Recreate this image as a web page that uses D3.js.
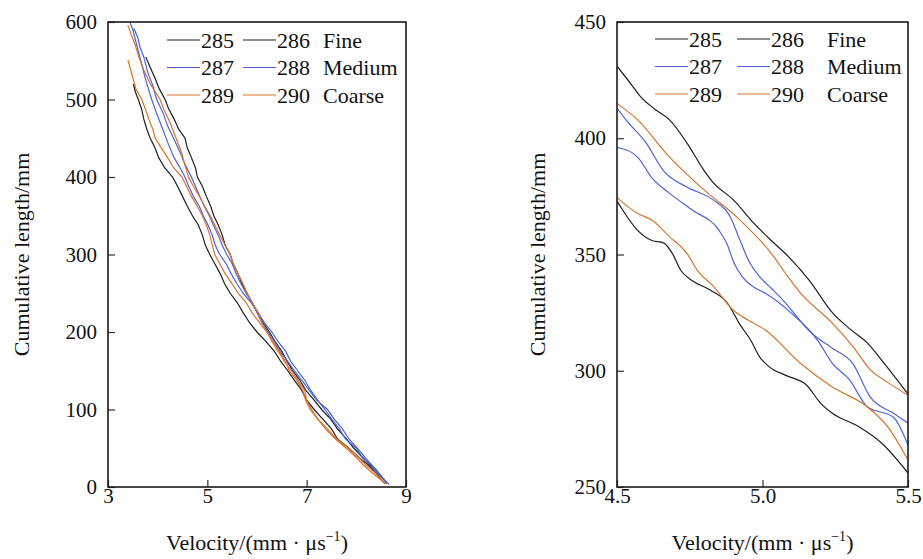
<!DOCTYPE html>
<html>
<head>
<meta charset="utf-8">
<script src="https://cdn.jsdelivr.net/npm/d3@7"></script>
<style>
  html,body{margin:0;padding:0;background:#fff;}
  svg{display:block;}
</style>
</head>
<body>
<svg id="chart" width="923" height="559"></svg>
<script>
const FONT="Liberation Serif";

/* series names + colours */
const seriesNames=["285","286","287","288","289","290"];
const seriesColors=["#1e1e1e","#1e1e1e","#4d63d6","#4d63d6","#d8732c","#d8732c"];
const groupNames=["Fine","Medium","Coarse"];

/* left panel: [velocity, cumulative length] */
const left285=[[3.76,555],[3.86,540],[3.95,527],[4.03,514],[4.15,500],[4.22,488],[4.33,475],[4.42,462],[4.55,450],[4.6,437],[4.68,425],[4.76,412],[4.8,400],[4.9,388],[4.98,375],[5.07,362],[5.13,350],[5.22,338],[5.3,325],[5.36,312],[5.46,300],[5.52,288],[5.62,275],[5.7,262],[5.8,250],[5.9,238],[6.02,225],[6.12,212],[6.25,200],[6.36,188],[6.5,175],[6.6,163],[6.72,150],[6.86,138],[6.98,125],[7.15,112],[7.3,100],[7.48,88],[7.62,75],[7.8,62],[7.95,50],[8.1,40],[8.25,30],[8.4,22],[8.5,14],[8.62,5]];
const left286=[[3.51,520],[3.55,510],[3.61,500],[3.68,487],[3.72,475],[3.78,462],[3.85,450],[3.95,437],[4.02,425],[4.14,412],[4.3,400],[4.4,388],[4.5,375],[4.6,362],[4.7,350],[4.82,338],[4.9,325],[4.96,312],[5.05,300],[5.15,288],[5.26,275],[5.35,262],[5.46,250],[5.6,238],[5.72,225],[5.85,212],[6.0,200],[6.18,188],[6.35,175],[6.48,162],[6.62,150],[6.75,138],[6.9,125],[7.0,112],[7.15,100],[7.32,88],[7.5,75],[7.62,62],[7.85,50],[8.05,38],[8.25,28],[8.4,18],[8.5,10],[8.58,4]];
const left287=[[3.44,600],[3.5,590],[3.56,575],[3.62,560],[3.7,540],[3.76,525],[3.88,500],[3.98,482],[4.1,462],[4.2,445],[4.33,425],[4.45,412],[4.55,400],[4.63,387],[4.72,375],[4.84,362],[4.92,350],[5.02,337],[5.1,325],[5.16,312],[5.25,300],[5.38,288],[5.48,275],[5.6,262],[5.72,250],[5.88,238],[6.02,225],[6.15,212],[6.3,200],[6.42,188],[6.58,175],[6.68,162],[6.82,150],[6.96,138],[7.08,125],[7.22,112],[7.37,100],[7.5,88],[7.66,75],[7.78,62],[8.0,50],[8.12,38],[8.3,28],[8.42,18],[8.55,10],[8.66,3]];
const left288=[[3.52,592],[3.6,580],[3.64,568],[3.72,555],[3.8,535],[3.9,518],[3.98,500],[4.1,484],[4.2,466],[4.32,450],[4.45,432],[4.56,415],[4.68,400],[4.76,388],[4.85,375],[4.94,362],[5.04,350],[5.12,338],[5.22,325],[5.3,312],[5.39,300],[5.5,288],[5.58,275],[5.68,262],[5.78,250],[5.9,238],[6.0,225],[6.1,212],[6.22,200],[6.35,188],[6.46,175],[6.62,162],[6.75,150],[6.9,138],[7.05,125],[7.2,112],[7.42,100],[7.55,88],[7.72,75],[7.85,62],[8.02,50],[8.18,38],[8.32,28],[8.45,18],[8.55,10],[8.62,4]];
const left289=[[3.4,596],[3.46,585],[3.55,570],[3.62,555],[3.72,538],[3.85,520],[4.05,500],[4.12,488],[4.25,470],[4.36,452],[4.48,432],[4.55,415],[4.62,400],[4.72,388],[4.84,375],[4.95,362],[5.06,350],[5.15,338],[5.25,325],[5.36,312],[5.46,300],[5.52,288],[5.62,275],[5.72,262],[5.8,250],[5.9,238],[6.02,225],[6.1,212],[6.2,200],[6.32,188],[6.45,175],[6.55,162],[6.7,150],[6.82,138],[6.96,125],[7.0,112],[7.1,100],[7.22,88],[7.42,75],[7.6,62],[7.85,50],[8.05,38],[8.2,28],[8.38,18],[8.5,10],[8.6,4]];
const left290=[[3.4,551],[3.45,540],[3.5,528],[3.56,514],[3.68,500],[3.75,488],[3.82,475],[3.9,462],[3.95,450],[4.08,437],[4.2,425],[4.32,412],[4.49,400],[4.58,388],[4.68,375],[4.8,362],[4.9,350],[4.98,338],[5.05,325],[5.1,312],[5.15,300],[5.25,288],[5.36,275],[5.5,262],[5.62,250],[5.78,238],[5.9,225],[6.05,212],[6.2,200],[6.3,188],[6.42,175],[6.58,162],[6.65,150],[6.8,138],[6.92,125],[6.98,112],[7.07,100],[7.22,88],[7.38,75],[7.58,62],[7.8,50],[8.0,38],[8.15,28],[8.32,18],[8.48,10],[8.58,4]];

/* right panel: zoom on 4.5-5.5 */
const right285=[[4.5,431],[4.55,423],[4.58,418],[4.63,412.5],[4.68,408],[4.74,398],[4.8,386],[4.83,381],[4.9,373.5],[4.97,363.5],[5.03,356],[5.09,349],[5.16,339],[5.24,325],[5.3,318],[5.36,312],[5.41,304.5],[5.5,290]];
const right286=[[4.5,373],[4.51,371],[4.57,360.5],[4.62,356],[4.66,355],[4.69,350.5],[4.72,343],[4.75,339.5],[4.82,334.7],[4.88,329],[4.92,320.4],[4.96,313],[4.99,306],[5.02,302],[5.08,298],[5.15,294],[5.2,286],[5.24,281.7],[5.33,276],[5.41,268.8],[5.5,256]];
const right287=[[4.5,413],[4.53,408],[4.6,398],[4.66,386],[4.74,379],[4.83,373.5],[4.89,366],[4.92,357],[4.95,348],[4.99,340.5],[5.03,335.5],[5.07,330.4],[5.17,316],[5.24,309.7],[5.31,303.2],[5.37,288.8],[5.45,281.7],[5.5,277.5]];
const right288=[[4.5,396],[4.51,395.8],[4.57,392],[4.62,383],[4.68,376.4],[4.76,369],[4.85,360.5],[4.88,354],[4.9,347],[4.93,340.5],[4.97,336],[5.01,333.3],[5.1,324.7],[5.19,313],[5.24,303.2],[5.3,296],[5.36,284.5],[5.45,280],[5.5,268]];
const right289=[[4.5,415],[4.57,408],[4.68,392],[4.8,377.7],[4.91,366.3],[5.03,350.5],[5.09,340],[5.13,333.5],[5.24,320.5],[5.31,310.5],[5.37,300.5],[5.43,295],[5.5,289.5]];
const right290=[[4.5,374.5],[4.51,373.4],[4.57,367.7],[4.62,364.8],[4.68,357.7],[4.74,350.5],[4.78,342.5],[4.83,336.5],[4.9,326],[4.95,321.8],[5.01,317.5],[5.13,303.2],[5.24,293],[5.36,284.5],[5.43,276],[5.5,261.6]];

const leftTicksX=[3,5,7,9], leftTicksY=[0,100,200,300,400,500,600];
const rightTicksX=[4.5,5.0,5.5], rightTicksY=[250,300,350,400,450];

const svg=d3.select("#chart");

function panel(opt){
  const {x0,x1,y0,y1,xDom,yDom,xTicks,yTicks,xFmt,data,curve,legendX,legendY,col2,nameOff,titleX}=opt;
  const x=d3.scaleLinear().domain(xDom).range([x0,x1]);
  const y=d3.scaleLinear().domain(yDom).range([y1,y0]);
  const g=svg.append("g");

  const clipId="clip"+x0;
  g.append("clipPath").attr("id",clipId).append("rect")
    .attr("x",x0).attr("y",y0).attr("width",x1-x0).attr("height",y1-y0);

  const line=d3.line().x(d=>x(d[0])).y(d=>y(d[1])).curve(curve);
  g.append("g").attr("clip-path",`url(#${clipId})`)
    .selectAll("path").data(data).enter().append("path")
    .attr("d",d=>line(d)).attr("fill","none")
    .attr("stroke",(d,i)=>seriesColors[i]).attr("stroke-width",1.2);

  const ax=g.append("g").attr("transform",`translate(0,${y1})`)
    .call(d3.axisBottom(x).tickValues(xTicks).tickSize(-7).tickPadding(3).tickFormat(xFmt));
  const ay=g.append("g").attr("transform",`translate(${x0},0)`)
    .call(d3.axisLeft(y).tickValues(yTicks).tickSize(-7).tickPadding(11));
  [ax,ay].forEach(a=>{
    a.attr("font-family",FONT).attr("font-size",21);
    a.select(".domain").remove();
    a.selectAll(".tick line").attr("stroke","#333").attr("stroke-width",1.2);
    a.selectAll(".tick text").attr("fill","#111").attr("font-family",FONT);
  });
  ax.selectAll(".tick text").attr("dy","0.62em");

  g.append("rect").attr("x",x0).attr("y",y0).attr("width",x1-x0).attr("height",y1-y0)
    .attr("fill","none").attr("stroke","#1a1a1a").attr("stroke-width",1.6);

  /* legend */
  const lg=g.append("g").attr("font-size",22).attr("font-family",FONT).attr("fill","#111");
  groupNames.forEach((name,r)=>{
    const yy=legendY+r*27.5;
    [0,1].forEach(c=>{
      const i=r*2+c;
      const sx=legendX+c*col2;
      lg.append("line").attr("x1",sx).attr("x2",sx+33).attr("y1",yy).attr("y2",yy)
        .attr("stroke",seriesColors[i]).attr("stroke-width",1.2);
      lg.append("text").attr("x",sx+34).attr("y",yy).attr("dy","0.35em").attr("font-family",FONT).text(seriesNames[i]);
    });
    lg.append("text").attr("x",legendX+nameOff).attr("y",yy).attr("dy","0.35em").attr("font-family",FONT).text(name);
  });

  /* axis titles */
  const xt=g.append("text").attr("x",(x0+x1)/2).attr("y",550).attr("text-anchor","middle")
    .attr("font-size",22).attr("font-family",FONT).attr("fill","#111");
  xt.append("tspan").text("Velocity/(mm \u00b7 \u03bcs");
  xt.append("tspan").attr("font-size",14).attr("dy",-9).text("\u22121");
  xt.append("tspan").attr("dy",9).text(")");

  g.append("text").attr("transform",`translate(${titleX},${(y0+y1)/2}) rotate(-90)`)
    .attr("text-anchor","middle").attr("dy","0.35em").attr("font-size",22).attr("font-family",FONT).attr("fill","#111")
    .text("Cumulative length/mm");
}

panel({x0:108,x1:406,y0:22,y1:487,xDom:[3,9],yDom:[0,600],xTicks:leftTicksX,yTicks:leftTicksY,
  xFmt:d3.format("d"),data:[left285,left286,left287,left288,left289,left290],curve:d3.curveLinear,
  legendX:167,legendY:40,col2:76,nameOff:156,titleX:21});
panel({x0:617,x1:908,y0:22,y1:487,xDom:[4.5,5.5],yDom:[250,450],xTicks:rightTicksX,yTicks:rightTicksY,
  xFmt:d3.format(".1f"),data:[right285,right286,right287,right288,right289,right290],curve:d3.curveMonotoneX,
  legendX:655,legendY:39,col2:82,nameOff:172,titleX:537});
</script>
</body>
</html>
